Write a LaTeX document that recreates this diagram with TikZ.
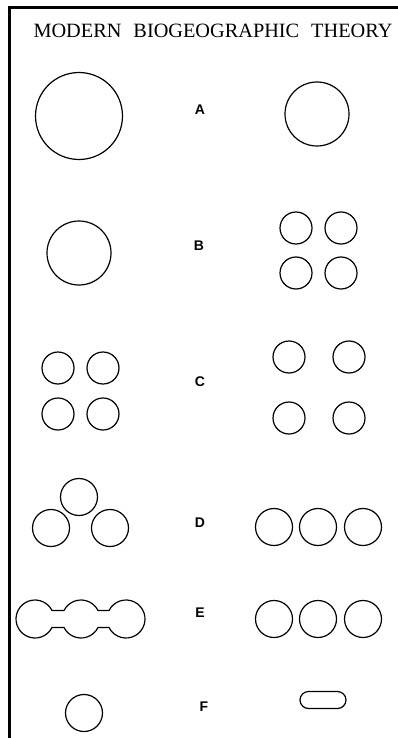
\documentclass[tikz,border=0pt]{standalone}
\usepackage{fontspec}
\setmainfont{Liberation Serif}
\newfontfamily\labelfont{Liberation Sans}
\begin{document}
\begin{tikzpicture}[x=1pt, y=-1pt,
        isle/.style={circle, draw, inner sep=0pt, line width=1.2pt},
        step label/.style={font=\labelfont\fontsize{14}{14}\selectfont\bfseries, inner sep=0pt}]
        \useasboundingbox (0,0) rectangle (398,738);

        % Frame
        \draw[line width=2.6pt] (9.7,738) -- (9.7,7.3) -- (398,7.3);

        % Title
        \node[anchor=base, inner sep=0pt, font=\fontsize{20.3}{20.3}\selectfont] (title) at (213,38)
            {MODERN\hspace{12pt}BIOGEOGRAPHIC\hspace{12pt}THEORY};

        % Row A
        \node[isle, minimum size=87pt] (a1) at (79,116) {};
        \node[step label] (la) at (200,110) {A};
        \node[isle, minimum size=64pt] (a2) at (317,114) {};

        % Row B
        \node[isle, minimum size=64pt] (b1) at (79,253) {};
        \node[step label] (lb) at (199,246) {B};
        \node[isle, minimum size=32pt] (b2) at (296,228) {};
        \node[isle, minimum size=32pt] (b3) at (341,228) {};
        \node[isle, minimum size=32pt] (b4) at (296,273) {};
        \node[isle, minimum size=32pt] (b5) at (341,273) {};

        % Row C
        \node[isle, minimum size=32pt] (c1) at (58,368) {};
        \node[isle, minimum size=32pt] (c2) at (103,368) {};
        \node[isle, minimum size=32pt] (c3) at (58,414) {};
        \node[isle, minimum size=32pt] (c4) at (103,414) {};
        \node[step label] (lc) at (200,382) {C};
        \node[isle, minimum size=32pt] (c5) at (289,357) {};
        \node[isle, minimum size=32pt] (c6) at (349,357) {};
        \node[isle, minimum size=32pt] (c7) at (289,418) {};
        \node[isle, minimum size=32pt] (c8) at (349,418) {};

        % Row D
        \node[isle, minimum size=37pt] (d1) at (79,497) {};
        \node[isle, minimum size=37pt] (d2) at (51,528) {};
        \node[isle, minimum size=37pt] (d3) at (110,528) {};
        \node[step label] (ld) at (200,523) {D};
        \node[isle, minimum size=37pt] (d4) at (274,527) {};
        \node[isle, minimum size=37pt] (d5) at (318,527) {};
        \node[isle, minimum size=37pt] (d6) at (363,527) {};

        % Row E
        \coordinate (eL) at (35,619);
        \coordinate (eM) at (81,619);
        \coordinate (eR) at (126,619);
        \draw[line width=1.2pt] ([shift={(26.57:19)}]eL)
            arc[start angle=26.57, end angle=333.43, radius=19]
            -- ([shift={(206.57:19)}]eM)
            arc[start angle=206.57, end angle=333.43, radius=19]
            -- ([shift={(206.57:19)}]eR)
            arc[start angle=206.57, end angle=513.43, radius=19]
            -- ([shift={(26.57:19)}]eM)
            arc[start angle=26.57, end angle=153.43, radius=19]
            -- cycle;
        \node[step label] (le) at (200,613) {E};
        \node[isle, minimum size=37pt] (e1) at (274,619) {};
        \node[isle, minimum size=37pt] (e2) at (318,619) {};
        \node[isle, minimum size=37pt] (e3) at (363,619) {};

        % Row F
        \node[isle, minimum size=37pt] (f1) at (84,713) {};
        \node[step label] (lf) at (204,707) {F};
        \node[draw, line width=1.2pt, inner sep=0pt, minimum width=46pt, minimum height=17pt,
            rounded corners=8.5pt] (f2) at (323,700) {};
\end{tikzpicture}
\end{document}
